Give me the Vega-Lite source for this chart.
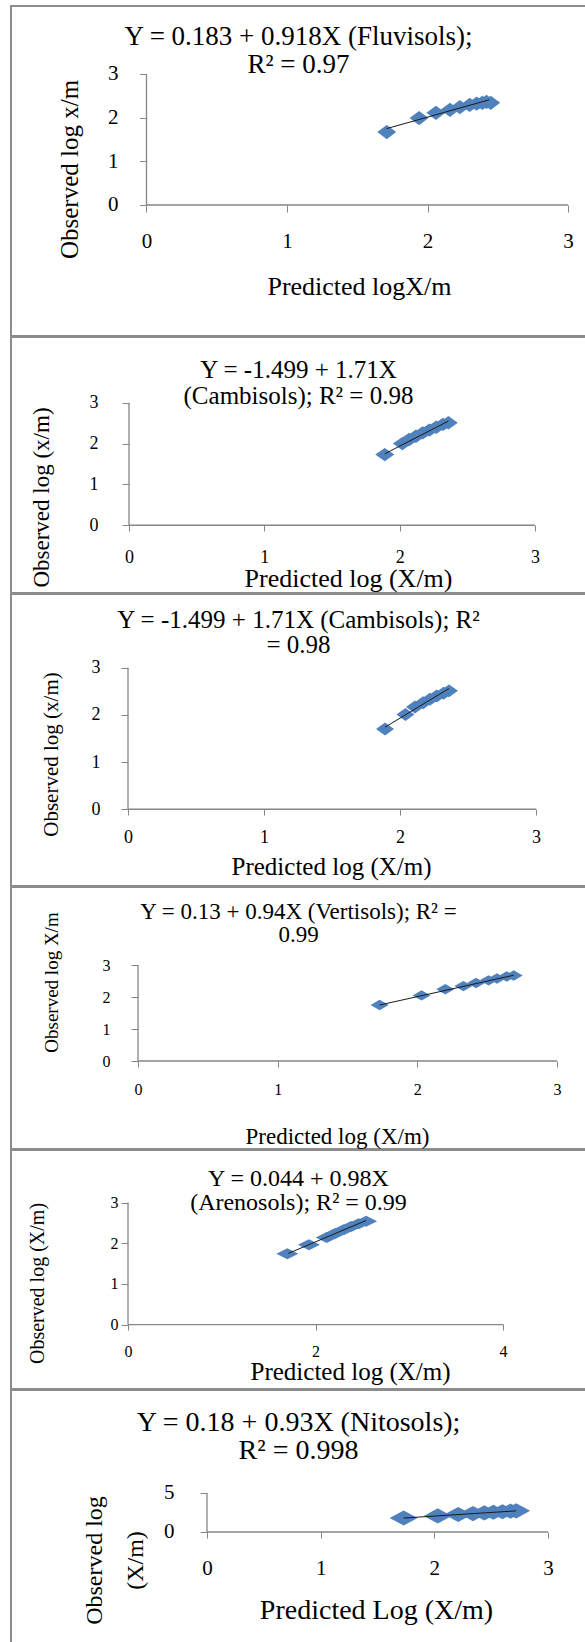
{
  "$schema": "https://vega.github.io/schema/vega-lite/v6.json",
  "padding": {"left": 10, "top": 5, "right": 0, "bottom": 0},
  "spacing": -3,
  "config": {
    "view": {"stroke": "#8c8c8c", "strokeWidth": 2},
    "font": "Liberation Serif",
    "axis": {"grid": false, "domain": false, "format": "d", "tickColor": "#868686", "tickSize": 6, "labelColor": "#000000", "titleColor": "#000000", "labelFont": "Liberation Serif", "titleFont": "Liberation Serif", "titleFontWeight": "normal", "labelFontWeight": "normal", "labelFlush": false, "labelOverlap": false, "labelBaseline": "middle", "titleAlign": "center", "titleBaseline": "middle"},
    "title": {"font": "Liberation Serif", "fontWeight": "normal", "color": "#000000", "anchor": "middle"}
  },
  "datasets": {
    "pts": [
      {"panel": 1, "x": 1.71, "y": 1.67}, {"panel": 1, "x": 1.94, "y": 1.99}, {"panel": 1, "x": 2.06, "y": 2.11}, {"panel": 1, "x": 2.16, "y": 2.18}, {"panel": 1, "x": 2.23, "y": 2.24}, {"panel": 1, "x": 2.30, "y": 2.29}, {"panel": 1, "x": 2.35, "y": 2.32}, {"panel": 1, "x": 2.39, "y": 2.34}, {"panel": 1, "x": 2.42, "y": 2.36}, {"panel": 1, "x": 2.45, "y": 2.34},
      {"panel": 2, "x": 1.89, "y": 1.73}, {"panel": 2, "x": 2.02, "y": 2.0}, {"panel": 2, "x": 2.07, "y": 2.1}, {"panel": 2, "x": 2.12, "y": 2.18}, {"panel": 2, "x": 2.17, "y": 2.26}, {"panel": 2, "x": 2.22, "y": 2.33}, {"panel": 2, "x": 2.27, "y": 2.4}, {"panel": 2, "x": 2.32, "y": 2.47}, {"panel": 2, "x": 2.36, "y": 2.51},
      {"panel": 3, "x": 1.89, "y": 1.7}, {"panel": 3, "x": 2.04, "y": 2.01}, {"panel": 3, "x": 2.11, "y": 2.17}, {"panel": 3, "x": 2.17, "y": 2.26}, {"panel": 3, "x": 2.22, "y": 2.33}, {"panel": 3, "x": 2.27, "y": 2.4}, {"panel": 3, "x": 2.32, "y": 2.46}, {"panel": 3, "x": 2.36, "y": 2.51},
      {"panel": 4, "x": 1.73, "y": 1.75}, {"panel": 4, "x": 2.03, "y": 2.05}, {"panel": 4, "x": 2.2, "y": 2.24}, {"panel": 4, "x": 2.33, "y": 2.34}, {"panel": 4, "x": 2.42, "y": 2.44}, {"panel": 4, "x": 2.51, "y": 2.52}, {"panel": 4, "x": 2.57, "y": 2.58}, {"panel": 4, "x": 2.64, "y": 2.64}, {"panel": 4, "x": 2.69, "y": 2.67},
      {"panel": 5, "x": 1.7, "y": 1.74}, {"panel": 5, "x": 1.93, "y": 1.96}, {"panel": 5, "x": 2.12, "y": 2.14}, {"panel": 5, "x": 2.21, "y": 2.24}, {"panel": 5, "x": 2.3, "y": 2.33}, {"panel": 5, "x": 2.38, "y": 2.41}, {"panel": 5, "x": 2.46, "y": 2.48}, {"panel": 5, "x": 2.54, "y": 2.54},
      {"panel": 6, "x": 1.73, "y": 1.79}, {"panel": 6, "x": 2.03, "y": 2.06}, {"panel": 6, "x": 2.21, "y": 2.24}, {"panel": 6, "x": 2.34, "y": 2.36}, {"panel": 6, "x": 2.44, "y": 2.45}, {"panel": 6, "x": 2.52, "y": 2.53}, {"panel": 6, "x": 2.6, "y": 2.6}, {"panel": 6, "x": 2.67, "y": 2.67}, {"panel": 6, "x": 2.72, "y": 2.71}
    ],
    "fit": [
      {"panel": 1, "x": 1.71, "y": 1.75}, {"panel": 1, "x": 2.44, "y": 2.41},
      {"panel": 2, "x": 1.89, "y": 1.75}, {"panel": 2, "x": 2.36, "y": 2.55},
      {"panel": 3, "x": 1.89, "y": 1.74}, {"panel": 3, "x": 2.36, "y": 2.56},
      {"panel": 4, "x": 1.73, "y": 1.75}, {"panel": 4, "x": 2.69, "y": 2.68},
      {"panel": 5, "x": 1.71, "y": 1.75}, {"panel": 5, "x": 2.54, "y": 2.56},
      {"panel": 6, "x": 1.73, "y": 1.79}, {"panel": 6, "x": 2.72, "y": 2.71}
    ]
  },
  "vconcat": [
    {
      "width": 575, "height": 330,
      "title": {"text": ["Y = 0.183 + 0.918X (Fluvisols);", "R² = 0.97"], "fontSize": 27, "lineHeight": 28, "offset": -73},
      "layer": [
        {"data": {"values": [{}]}, "mark": {"type": "rule", "color": "#868686", "strokeWidth": 1.3}, "encoding": {"x": {"datum": 0, "type": "quantitative"}, "x2": {"datum": 3}, "y": {"datum": 0, "type": "quantitative"}}},
        {"data": {"values": [{}]}, "mark": {"type": "rule", "color": "#868686", "strokeWidth": 1.3}, "encoding": {"x": {"datum": 0, "type": "quantitative"}, "y": {"datum": 0, "type": "quantitative"}, "y2": {"datum": 3}}},
        {"data": {"name": "pts"}, "transform": [{"filter": "datum.panel == 1"}],
         "mark": {"type": "point", "filled": true, "shape": "M-1,0L0,-0.75L1,0L0,0.75Z", "size": 361, "color": "#4F81BD", "opacity": 1},
         "encoding": {
           "x": {"field": "x", "type": "quantitative", "scale": {"domain": [-0.9644, 3.1281], "nice": false, "zero": false},
                 "axis": {"title": "Predicted logX/m", "values": [0, 1, 2, 3], "format": "d", "labelFont": "Liberation Serif", "titleFont": "Liberation Serif", "titleFontWeight": "normal", "offset": -131, "tickSize": 7, "labelFontSize": 21, "labelPadding": 29, "titleFontSize": 26, "titleX": 348, "titleY": 81}},
           "y": {"field": "y", "type": "quantitative", "scale": {"domain": [-3.0, 4.557], "nice": false, "zero": false},
                 "axis": {"title": "Observed log x/m", "values": [0, 1, 2, 3], "format": "d", "labelFont": "Liberation Serif", "titleFont": "Liberation Serif", "titleFontWeight": "normal", "offset": -135.5, "tickSize": 7, "labelFontSize": 21, "labelPadding": 21.5, "titleFontSize": 25, "titleX": -77.5, "titleY": 163, "titleAngle": -90}}
         }},
        {"data": {"name": "fit"}, "transform": [{"filter": "datum.panel == 1"}], "mark": {"type": "line", "color": "#1a1a1a", "strokeWidth": 1},
         "encoding": {"x": {"field": "x", "type": "quantitative"}, "y": {"field": "y", "type": "quantitative"}}}
      ]
    },
    {
      "width": 575, "height": 256,
      "title": {"text": ["Y = -1.499 + 1.71X", "(Cambisols); R² = 0.98"], "fontSize": 25, "lineHeight": 26, "offset": -72},
      "layer": [
        {"data": {"values": [{}]}, "mark": {"type": "rule", "color": "#868686", "strokeWidth": 1.3}, "encoding": {"x": {"datum": 0, "type": "quantitative"}, "x2": {"datum": 3}, "y": {"datum": 0, "type": "quantitative"}}},
        {"data": {"values": [{}]}, "mark": {"type": "rule", "color": "#868686", "strokeWidth": 1.3}, "encoding": {"x": {"datum": 0, "type": "quantitative"}, "y": {"datum": 0, "type": "quantitative"}, "y2": {"datum": 3}}},
        {"data": {"name": "pts"}, "transform": [{"filter": "datum.panel == 2"}],
         "mark": {"type": "point", "filled": true, "shape": "M-1,0L0,-0.7L1,0L0,0.7Z", "size": 361, "color": "#4F81BD", "opacity": 1},
         "encoding": {
           "x": {"field": "x", "type": "quantitative", "scale": {"domain": [-0.8719, 3.3769], "nice": false, "zero": false},
                 "axis": {"title": "Predicted log (X/m)", "values": [0, 1, 2, 3], "format": "d", "labelFont": "Liberation Serif", "titleFont": "Liberation Serif", "titleFontWeight": "normal", "offset": -68, "tickSize": 6, "labelFontSize": 18, "labelPadding": 26, "titleFontSize": 26, "titleX": 337, "titleY": 53}},
           "y": {"field": "y", "type": "quantitative", "scale": {"domain": [-1.6585, 4.6098], "nice": false, "zero": false},
                 "axis": {"title": "Observed log (x/m)", "values": [0, 1, 2, 3], "format": "d", "labelFont": "Liberation Serif", "titleFont": "Liberation Serif", "titleFontWeight": "normal", "offset": -118, "tickSize": 7, "labelFontSize": 18, "labelPadding": 24, "titleFontSize": 23, "titleX": -88, "titleY": 160, "titleAngle": -90}}
         }},
        {"data": {"name": "fit"}, "transform": [{"filter": "datum.panel == 2"}], "mark": {"type": "line", "color": "#1a1a1a", "strokeWidth": 1},
         "encoding": {"x": {"field": "x", "type": "quantitative"}, "y": {"field": "y", "type": "quantitative"}}}
      ]
    },
    {
      "width": 575, "height": 292,
      "title": {"text": ["Y = -1.499 + 1.71X (Cambisols); R²", "= 0.98"], "fontSize": 25, "lineHeight": 25, "offset": -64},
      "layer": [
        {"data": {"values": [{}]}, "mark": {"type": "rule", "color": "#868686", "strokeWidth": 1.3}, "encoding": {"x": {"datum": 0, "type": "quantitative"}, "x2": {"datum": 3}, "y": {"datum": 0, "type": "quantitative"}}},
        {"data": {"values": [{}]}, "mark": {"type": "rule", "color": "#868686", "strokeWidth": 1.3}, "encoding": {"x": {"datum": 0, "type": "quantitative"}, "y": {"datum": 0, "type": "quantitative"}, "y2": {"datum": 3}}},
        {"data": {"name": "pts"}, "transform": [{"filter": "datum.panel == 3"}],
         "mark": {"type": "point", "filled": true, "shape": "M-1,0L0,-0.72L1,0L0,0.72Z", "size": 324, "color": "#4F81BD", "opacity": 1},
         "encoding": {
           "x": {"field": "x", "type": "quantitative", "scale": {"domain": [-0.8603, 3.3676], "nice": false, "zero": false},
                 "axis": {"title": "Predicted log (X/m)", "values": [0, 1, 2, 3], "format": "d", "labelFont": "Liberation Serif", "titleFont": "Liberation Serif", "titleFontWeight": "normal", "offset": -77, "tickSize": 6, "labelFontSize": 18, "labelPadding": 22, "titleFontSize": 25, "titleX": 320, "titleY": 57.5}},
           "y": {"field": "y", "type": "quantitative", "scale": {"domain": [-1.6268, 4.5633], "nice": false, "zero": false},
                 "axis": {"title": "Observed log (x/m)", "values": [0, 1, 2, 3], "format": "d", "labelFont": "Liberation Serif", "titleFont": "Liberation Serif", "titleFontWeight": "normal", "offset": -117, "tickSize": 7, "labelFontSize": 18, "labelPadding": 21, "titleFontSize": 21, "titleX": -76.5, "titleY": 160, "titleAngle": -90}}
         }},
        {"data": {"name": "fit"}, "transform": [{"filter": "datum.panel == 3"}], "mark": {"type": "line", "color": "#1a1a1a", "strokeWidth": 1},
         "encoding": {"x": {"field": "x", "type": "quantitative"}, "y": {"field": "y", "type": "quantitative"}}}
      ]
    },
    {
      "width": 575, "height": 262,
      "title": {"text": ["Y = 0.13 + 0.94X (Vertisols); R² =", "0.99"], "fontSize": 23, "lineHeight": 23, "offset": -60},
      "layer": [
        {"data": {"values": [{}]}, "mark": {"type": "rule", "color": "#868686", "strokeWidth": 1.3}, "encoding": {"x": {"datum": 0, "type": "quantitative"}, "x2": {"datum": 3}, "y": {"datum": 0, "type": "quantitative"}}},
        {"data": {"values": [{}]}, "mark": {"type": "rule", "color": "#868686", "strokeWidth": 1.3}, "encoding": {"x": {"datum": 0, "type": "quantitative"}, "y": {"datum": 0, "type": "quantitative"}, "y2": {"datum": 3}}},
        {"data": {"name": "pts"}, "transform": [{"filter": "datum.panel == 4"}],
         "mark": {"type": "point", "filled": true, "shape": "M-1,0L0,-0.58L1,0L0,0.58Z", "size": 324, "color": "#4F81BD", "opacity": 1},
         "encoding": {
           "x": {"field": "x", "type": "quantitative", "scale": {"domain": [-0.9093, 3.2076], "nice": false, "zero": false},
                 "axis": {"title": "Predicted log (X/m)", "values": [0, 1, 2, 3], "format": "d", "labelFont": "Liberation Serif", "titleFont": "Liberation Serif", "titleFontWeight": "normal", "offset": -88, "tickSize": 6, "labelFontSize": 16, "labelPadding": 22, "titleFontSize": 23, "titleX": 326, "titleY": 75}},
           "y": {"field": "y", "type": "quantitative", "scale": {"domain": [-2.75, 5.4375], "nice": false, "zero": false},
                 "axis": {"title": "Observed log X/m", "values": [0, 1, 2, 3], "format": "d", "labelFont": "Liberation Serif", "titleFont": "Liberation Serif", "titleFontWeight": "normal", "offset": -127, "tickSize": 7, "labelFontSize": 16, "labelPadding": 21, "titleFontSize": 19, "titleX": -87, "titleY": 95, "titleAngle": -90}}
         }},
        {"data": {"name": "fit"}, "transform": [{"filter": "datum.panel == 4"}], "mark": {"type": "line", "color": "#1a1a1a", "strokeWidth": 1},
         "encoding": {"x": {"field": "x", "type": "quantitative"}, "y": {"field": "y", "type": "quantitative"}}}
      ]
    },
    {
      "width": 575, "height": 239,
      "title": {"text": ["Y = 0.044 + 0.98X", "(Arenosols); R² = 0.99"], "fontSize": 24, "lineHeight": 24, "offset": -65},
      "layer": [
        {"data": {"values": [{}]}, "mark": {"type": "rule", "color": "#868686", "strokeWidth": 1.3}, "encoding": {"x": {"datum": 0, "type": "quantitative"}, "x2": {"datum": 4}, "y": {"datum": 0, "type": "quantitative"}}},
        {"data": {"values": [{}]}, "mark": {"type": "rule", "color": "#868686", "strokeWidth": 1.3}, "encoding": {"x": {"datum": 0, "type": "quantitative"}, "y": {"datum": 0, "type": "quantitative"}, "y2": {"datum": 3}}},
        {"data": {"name": "pts"}, "transform": [{"filter": "datum.panel == 5"}],
         "mark": {"type": "point", "filled": true, "shape": "M-1,0L0,-0.5L1,0L0,0.5Z", "size": 484, "color": "#4F81BD", "opacity": 1},
         "encoding": {
           "x": {"field": "x", "type": "quantitative", "scale": {"domain": [-1.248, 4.8853], "nice": false, "zero": false},
                 "axis": {"title": "Predicted  log (X/m)", "values": [0, 2, 4], "format": "d", "labelFont": "Liberation Serif", "titleFont": "Liberation Serif", "titleFontWeight": "normal", "offset": -65, "tickSize": 6, "labelFontSize": 16, "labelPadding": 21, "titleFontSize": 25, "titleX": 339, "titleY": 47}},
           "y": {"field": "y", "type": "quantitative", "scale": {"domain": [-1.5854, 4.2927], "nice": false, "zero": false},
                 "axis": {"title": "Observed log (X/m)", "values": [0, 1, 2, 3], "format": "d", "labelFont": "Liberation Serif", "titleFont": "Liberation Serif", "titleFontWeight": "normal", "offset": -117, "tickSize": 7, "labelFontSize": 16, "labelPadding": 3, "titleFontSize": 20, "titleX": -90.5, "titleY": 133, "titleAngle": -90}}
         }},
        {"data": {"name": "fit"}, "transform": [{"filter": "datum.panel == 5"}], "mark": {"type": "line", "color": "#1a1a1a", "strokeWidth": 1},
         "encoding": {"x": {"field": "x", "type": "quantitative"}, "y": {"field": "y", "type": "quantitative"}}}
      ]
    },
    {
      "width": 575, "height": 259,
      "title": {"text": ["Y = 0.18 + 0.93X (Nitosols);", "R² = 0.998"], "fontSize": 28, "lineHeight": 28, "offset": -75},
      "layer": [
        {"data": {"values": [{}]}, "mark": {"type": "rule", "color": "#868686", "strokeWidth": 1.3}, "encoding": {"x": {"datum": 0, "type": "quantitative"}, "x2": {"datum": 3}, "y": {"datum": 0, "type": "quantitative"}}},
        {"data": {"values": [{}]}, "mark": {"type": "rule", "color": "#868686", "strokeWidth": 1.3}, "encoding": {"x": {"datum": 0, "type": "quantitative"}, "y": {"datum": 0, "type": "quantitative"}, "y2": {"datum": 5}}},
        {"data": {"name": "pts"}, "transform": [{"filter": "datum.panel == 6"}],
         "mark": {"type": "point", "filled": true, "shape": "M-1,0L0,-0.54L1,0L0,0.54Z", "size": 784, "color": "#4F81BD", "opacity": 1},
         "encoding": {
           "x": {"field": "x", "type": "quantitative", "scale": {"domain": [-1.7243, 3.3344], "nice": false, "zero": false},
                 "axis": {"title": "Predicted Log (X/m)", "values": [0, 1, 2, 3], "format": "d", "labelFont": "Liberation Serif", "titleFont": "Liberation Serif", "titleFontWeight": "normal", "offset": -117, "tickSize": 6, "labelFontSize": 21, "labelPadding": 30, "titleFontSize": 28, "titleX": 365, "titleY": 78.5}},
           "y": {"field": "y", "type": "quantitative", "scale": {"domain": [-15.0, 18.205], "nice": false, "zero": false},
                 "axis": {"title": ["Observed log", "(X/m)"], "values": [0, 5], "format": "d", "labelFont": "Liberation Serif", "titleFont": "Liberation Serif", "titleFontWeight": "normal", "offset": -196, "tickSize": 7, "labelFontSize": 21, "labelPadding": 26, "titleFontSize": 24, "titleLineHeight": 41, "titleX": -112.5, "titleY": 170, "titleAngle": -90}}
         }},
        {"data": {"name": "fit"}, "transform": [{"filter": "datum.panel == 6"}], "mark": {"type": "line", "color": "#1a1a1a", "strokeWidth": 1},
         "encoding": {"x": {"field": "x", "type": "quantitative"}, "y": {"field": "y", "type": "quantitative"}}}
      ]
    }
  ]
}
